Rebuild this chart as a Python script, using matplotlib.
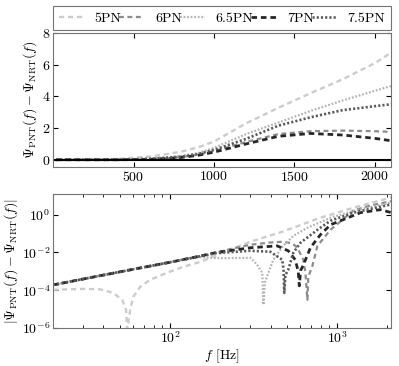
import numpy as np
import matplotlib
matplotlib.use("Agg")
import matplotlib.pyplot as plt

plt.rcParams.update({
    "font.family": "serif",
    "font.serif": ["cmr10", "DejaVu Serif"],
    "mathtext.fontset": "cm",
    "axes.formatter.use_mathtext": True,
    "font.size": 10,
    "xtick.direction": "in",
    "ytick.direction": "in",
    "xtick.top": True,
    "ytick.right": True,
})

labels = ["5PN", "6PN", "6.5PN", "7PN", "7.5PN"]
colors = ["0.8", "0.55", "0.7", "0.15", "0.35"]
styles = [(0, (2.2, 1.6)), (0, (2.2, 1.6)), (0, (0.8, 0.8)), (0, (2.0, 1.4)), (0, (0.8, 0.8))]
widths = [1.7, 1.6, 1.6, 2.0, 1.9]

# top panel: phase difference (linear)
f_top = [20, 200, 400, 600, 700, 800, 900, 1000, 1200, 1400, 1600, 1800, 2000, 2100]
dpsi_5pn = [0.0, 0.0, 0.05, 0.2, 0.34, 0.52, 0.78, 1.15, 2.3, 3.28, 4.2, 5.08, 6.1, 6.75]
dpsi_6pn = [0.0, 0.0, 0.0, 0.03, 0.08, 0.18, 0.32, 0.55, 1.12, 1.62, 1.8, 1.84, 1.8, 1.76]
dpsi_65pn = [0.0, 0.0, 0.0, 0.08, 0.15, 0.25, 0.42, 0.75, 1.62, 2.35, 3.08, 3.74, 4.35, 4.65]
dpsi_7pn = [0.0, 0.0, 0.0, 0.02, 0.07, 0.15, 0.28, 0.48, 1.0, 1.48, 1.66, 1.56, 1.35, 1.2]
dpsi_75pn = [0.0, 0.0, 0.0, 0.06, 0.12, 0.2, 0.36, 0.62, 1.32, 2.15, 2.68, 3.13, 3.38, 3.5]

# bottom panel: log10 |phase difference|
f_5pn = [20, 30, 38, 45.7, 51.8, 54.7, 55.5, 57.8, 60.3, 66.4, 76, 96, 120, 152, 192, 303, 470, 794, 912, 1251, 2113]
lg_5pn = [-3.98, -3.93, -3.95, -4.14, -4.51, -5.05, -6.3, -5.05, -4.35, -3.82, -3.45, -3.08, -2.76, -2.5, -2.12,
          -1.43, -0.9, -0.16, 0.0, 0.37, 0.92]
f_6pn = [20, 50, 100, 150, 190, 240, 303, 400, 476, 540, 578, 628, 646, 664, 672, 711, 762, 912, 1251, 1600, 2113]
lg_6pn = [-3.72, -3.03, -2.52, -2.2, -2.0, -1.78, -1.59, -1.47, -1.43, -1.52, -1.75, -2.39, -3.08, -4.51, -3.3,
          -2.71, -1.65, -0.8, 0.22, 0.5, 0.72]
f_65pn = [20, 50, 100, 150, 190, 240, 303, 333, 357, 362, 370, 382, 415, 476, 547, 664, 912, 1251, 2113]
lg_65pn = [-3.72, -3.03, -2.52, -2.24, -2.3, -2.3, -2.28, -2.66, -3.08, -4.78, -3.6, -3.24, -2.39, -1.65, -1.12,
           -0.69, -0.16, 0.2, 0.65]
f_7pn = [20, 50, 100, 150, 190, 303, 438, 510, 562, 585, 594, 605, 628, 692, 794, 912, 1047, 1377, 1816, 2113]
lg_7pn = [-3.72, -3.03, -2.52, -2.2, -2.0, -1.75, -1.65, -1.91, -2.39, -3.0, -3.77, -2.95, -2.66, -1.75, -1.06,
          -0.53, -0.32, 0.11, 0.27, 0.11]
f_75pn = [20, 50, 100, 150, 190, 303, 398, 470, 478, 483, 490, 510, 547, 603, 762, 912, 1251, 2113]
lg_75pn = [-3.72, -3.03, -2.52, -2.21, -2.03, -1.91, -1.96, -2.39, -2.9, -4.14, -3.2, -2.92, -2.02, -1.49, -0.8,
           -0.32, 0.11, 0.55]

top_series = [dpsi_5pn, dpsi_6pn, dpsi_65pn, dpsi_7pn, dpsi_75pn]
bot_f = [f_5pn, f_6pn, f_65pn, f_7pn, f_75pn]
bot_lg = [lg_5pn, lg_6pn, lg_65pn, lg_7pn, lg_75pn]

fig = plt.figure(figsize=(3.99, 3.66), dpi=100)
ax1 = fig.add_axes([0.133, 0.544, 0.847, 0.366])
ax2 = fig.add_axes([0.133, 0.104, 0.847, 0.366])

for i in range(5):
    ax1.plot(f_top, top_series[i], linestyle=styles[i], color=colors[i], lw=widths[i], label=labels[i])
    ax2.plot(bot_f[i], 10.0 ** np.array(bot_lg[i]), linestyle=styles[i], color=colors[i], lw=widths[i])
ax1.axhline(0, color="k", lw=1.5)

ax1.set_xlim(0, 2100)
ax1.set_ylim(-0.45, 8)
ax1.set_xticks([500, 1000, 1500, 2000])
ax1.set_yticks([0, 2, 4, 6, 8])
ax1.set_ylabel(r"$\Psi_{\rm PNT}(f) - \Psi_{\rm NRT}(f)$", fontsize=10, labelpad=2)

ax2.set_xscale("log")
ax2.set_yscale("log")
ax2.set_xlim(20, 2100)
ax2.set_ylim(1e-6, 10 ** 1.1)
ax2.set_yticks([1e-6, 1e-4, 1e-2, 1e0])
ax2.set_xlabel(r"$f$ [Hz]", fontsize=10, labelpad=1)
ax2.set_ylabel(r"$|\Psi_{\rm PNT}(f) - \Psi_{\rm NRT}(f)|$", fontsize=10, labelpad=1)

for ax in (ax1, ax2):
    ax.tick_params(pad=2)
    for sp in ax.spines.values():
        sp.set_color("0.45")

leg = ax1.legend(loc="lower left", bbox_to_anchor=(0, 1.02, 1, 0.2), ncol=5, mode="expand",
                 fancybox=False, edgecolor="0.45", fontsize=10, handlelength=1.8,
                 handletextpad=0.8, columnspacing=0.0, borderaxespad=0.0, framealpha=1)
leg.get_frame().set_linewidth(0.8)

fig.savefig("out.png", dpi=100)
